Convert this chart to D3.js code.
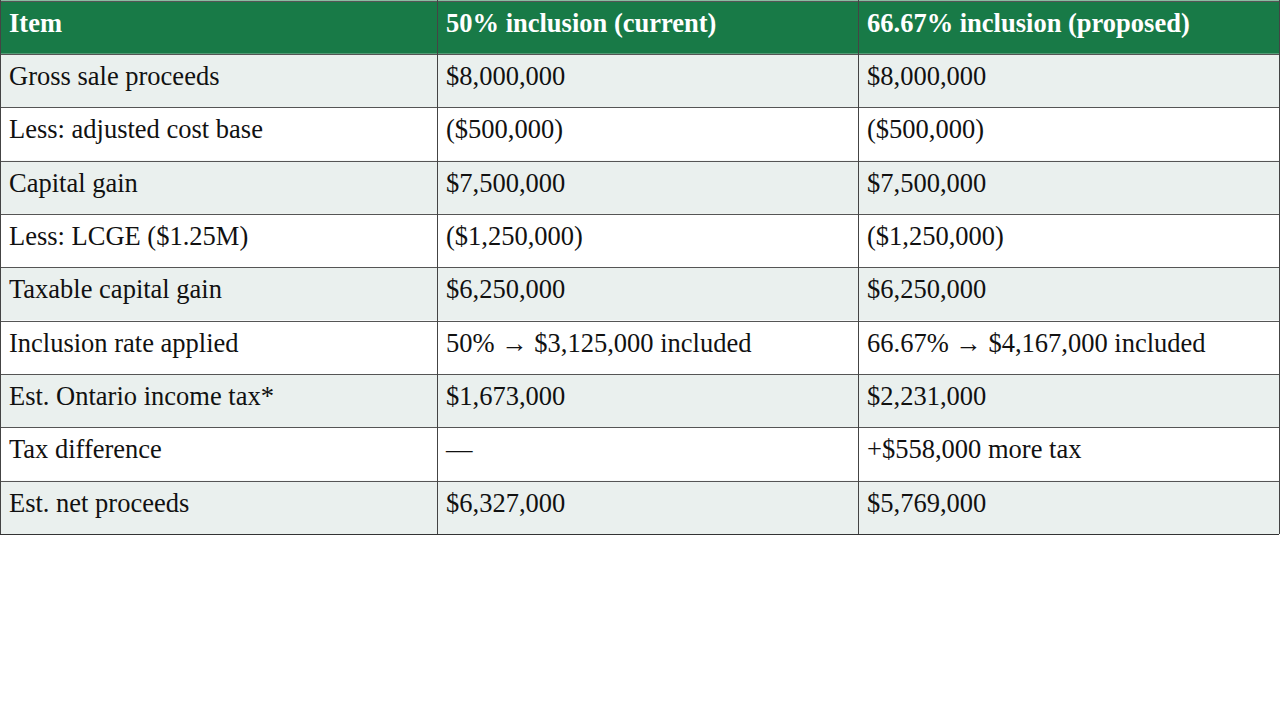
<!DOCTYPE html>
<html>
<head>
<meta charset="utf-8">
<script src="https://cdn.jsdelivr.net/npm/d3@7"></script>
<style>
  body { margin: 0; background: #fff; }
  svg { display: block; }
</style>
</head>
<body>
<div id="chart"></div>
<script>
const headers = ["Item", "50% inclusion (current)", "66.67% inclusion (proposed)"];
const items = [
    "Gross sale proceeds",
    "Less: adjusted cost base",
    "Capital gain",
    "Less: LCGE ($1.25M)",
    "Taxable capital gain",
    "Inclusion rate applied",
    "Est. Ontario income tax*",
    "Tax difference",
    "Est. net proceeds"
];
const current = [
    "$8,000,000", "($500,000)", "$7,500,000", "($1,250,000)", "$6,250,000",
    "50% \u2192 $3,125,000 included", "$1,673,000", "\u2014", "$6,327,000"
];
const proposed = [
    "$8,000,000", "($500,000)", "$7,500,000", "($1,250,000)", "$6,250,000",
    "66.67% \u2192 $4,167,000 included", "$2,231,000", "+$558,000 more tax", "$5,769,000"
];

const width = 1280;
const height = 720;
const tableWidth = 1279;
const tableHeight = 534;
// column edges (layout)
const colEdges = [0, 437, 858, tableWidth];

const rows = items.map((d, i) => [d, current[i], proposed[i]]);
const allRows = [headers].concat(rows);

const svg = d3.select("#chart")
    .append("svg")
    .attr("width", width)
    .attr("height", height);

const yScale = d3.scaleBand()
    .domain(d3.range(allRows.length))
    .range([0.5, tableHeight])
    .paddingInner(0);

const xScale = d3.scaleOrdinal()
    .domain(d3.range(3))
    .range(colEdges.slice(0, 3));

// row backgrounds
svg.selectAll(".row-bg")
    .data(allRows)
    .enter()
    .append("rect")
    .attr("class", "row-bg")
    .attr("x", 0.5)
    .attr("y", (d, i) => yScale(i))
    .attr("width", tableWidth - 0.5)
    .attr("height", yScale.bandwidth())
    .attr("fill", (d, i) => i === 0 ? "#187a47" : (i % 2 === 1 ? "#eaf0ee" : "#ffffff"));

// horizontal lines
svg.selectAll(".hline")
    .data(d3.range(allRows.length + 1))
    .enter()
    .append("line")
    .attr("class", "hline")
    .attr("x1", 0)
    .attr("x2", tableWidth)
    .attr("y1", i => Math.round(i < allRows.length ? yScale(i) : tableHeight) + 0.5)
    .attr("y2", i => Math.round(i < allRows.length ? yScale(i) : tableHeight) + 0.5)
    .attr("stroke", i => i === allRows.length ? "#333" : "#555")
    .attr("stroke-width", 1);

// vertical lines
svg.selectAll(".vline")
    .data(colEdges)
    .enter()
    .append("line")
    .attr("class", "vline")
    .attr("x1", d => d + 0.5)
    .attr("x2", d => d + 0.5)
    .attr("y1", 0)
    .attr("y2", tableHeight)
    .attr("stroke", "#444")
    .attr("stroke-width", 1);

// cell text
const rowG = svg.selectAll(".row")
    .data(allRows)
    .enter()
    .append("g")
    .attr("class", "row")
    .attr("transform", (d, i) => `translate(0, ${yScale(i)})`);

rowG.selectAll("text")
    .data((d, i) => d.map(v => ({ v, header: i === 0 })))
    .enter()
    .append("text")
    .attr("x", (d, j) => xScale(j) + 9)
    .attr("y", 31)
    .attr("font-family", "'Liberation Serif', 'Times New Roman', serif")
    .attr("font-size", 26.5)
    .attr("font-weight", d => d.header ? "bold" : "normal")
    .attr("fill", d => d.header ? "#ffffff" : "#111111")
    .text(d => d.v);
</script>
</body>
</html>
